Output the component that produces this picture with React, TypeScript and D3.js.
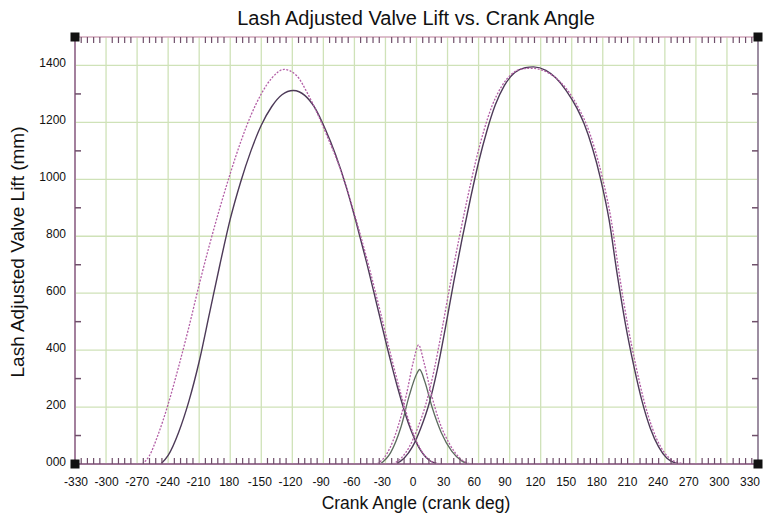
import React from 'react';
import * as d3 from 'd3';

// lift curves: [crank deg, lift]
const bigLeftPink: [number, number][] = [
  [-265, 0], [-258, 30], [-250, 100], [-240, 210], [-230, 340], [-220, 480], [-210, 630],
  [-200, 770], [-190, 900], [-180, 1020], [-170, 1130], [-160, 1225], [-150, 1300],
  [-140, 1355], [-128, 1386], [-116, 1365], [-105, 1300], [-95, 1225], [-85, 1140],
  [-75, 1050], [-65, 940], [-55, 815], [-45, 680], [-35, 535], [-25, 385], [-15, 245],
  [-5, 125], [5, 45], [15, 8], [24, 0],
];
const bigLeftDark: [number, number][] = [
  [-247, 0], [-240, 30], [-230, 110], [-220, 220], [-210, 360], [-200, 530], [-190, 700],
  [-180, 860], [-170, 990], [-160, 1100], [-150, 1190], [-140, 1255], [-130, 1297],
  [-119, 1312], [-108, 1295], [-98, 1250], [-88, 1175], [-78, 1085], [-68, 975], [-58, 845],
  [-48, 705], [-38, 555], [-28, 405], [-18, 265], [-8, 145], [2, 60], [12, 14], [22, 0],
];
const bigRightDark: [number, number][] = [
  [-20, 0], [-12, 20], [-4, 60], [4, 125], [12, 210], [20, 330], [28, 480], [36, 640],
  [44, 790], [52, 930], [60, 1060], [68, 1170], [76, 1260], [85, 1330], [95, 1375],
  [105, 1392], [113, 1395], [125, 1383], [135, 1355], [145, 1310], [155, 1250], [162, 1195],
  [170, 1110], [178, 1000], [186, 860], [194, 665], [202, 490], [210, 345], [218, 220],
  [226, 125], [234, 60], [242, 20], [250, 4], [258, 0],
];
const bigRightPink: [number, number][] = [
  [-23, 0], [-15, 20], [-7, 60], [1, 125], [9, 210], [17, 330], [25, 480], [33, 640],
  [41, 790], [49, 930], [57, 1060], [65, 1170], [73, 1258], [82, 1325], [92, 1370],
  [102, 1388], [111, 1390], [124, 1380], [136, 1352], [147, 1308], [157, 1248], [164, 1195],
  [172, 1110], [180, 1000], [188, 860], [196, 665], [204, 490], [212, 345], [220, 220],
  [228, 125], [236, 60], [244, 22], [252, 6], [262, 0],
];
const smallPink: [number, number][] = [
  [-38, 0], [-28, 40], [-18, 130], [-10, 240], [-3, 360], [2, 418], [7, 360], [14, 250],
  [22, 150], [32, 70], [42, 20], [52, 0],
];
const smallDark: [number, number][] = [
  [-35, 0], [-25, 40], [-15, 130], [-7, 240], [0, 315], [3, 332], [8, 290], [15, 200],
  [24, 110], [34, 45], [44, 10], [50, 0],
];

const xTicks = d3.range(-330, 331, 30);
const xTickLabels = ['-330', '-300', '-270', '-240', '-210', '180', '-150', '-120', '-90', '-60', '-30', '0',
  '30', '60', '90', '120', '150', '180', '210', '240', '270', '300', '330'];
const yTicks = [0, 200, 400, 600, 800, 1000, 1200, 1400];
const yTickLabels = ['000', '200', '400', '600', '800', '1000', '1200', '1400'];

const W = 772, H = 514;
const left = 75, right = 758, top = 37, bottom = 464;

const App = () => {
  const x = d3.scaleLinear().domain([-330, 330]).range([left, right]);
  const xLab = d3.scaleLinear().domain([-330, 330]).range([76, 750]);
  const y = d3.scaleLinear().domain([0, 1500]).range([bottom, top]);

  const line = d3.line<[number, number]>()
    .x(d => x(d[0]))
    .y(d => y(Math.max(0, d[1])))
    .curve(d3.curveMonotoneX);

  const minorX = d3.range(-330, 331, 6).filter(v => (v + 330) % 30 !== 0);
  const minorY = d3.range(100, 1500, 200);

  const darkCol = '#4d3a58';
  const pinkCol = '#b35fa6';
  const font = 'Arial, "Liberation Sans", sans-serif';

  return (
    <svg width={W} height={H} style={{ position: 'absolute', left: 0, top: 0, background: '#fff' }}>
      {/* grid */}
      {xTicks.slice(1, -1).map(v => (
        <line key={'gx' + v} x1={x(v)} x2={x(v)} y1={top} y2={bottom} stroke="#cfe2b8" strokeWidth={1.3} />
      ))}
      {yTicks.slice(1).map(v => (
        <line key={'gy' + v} x1={left} x2={right} y1={y(v)} y2={y(v)} stroke="#cfe2b8" strokeWidth={1.3} />
      ))}

      {/* curves */}
      <path d={line(bigLeftDark) || ''} fill="none" stroke={darkCol} strokeWidth={1.4} />
      <path d={line(bigRightDark) || ''} fill="none" stroke={darkCol} strokeWidth={1.4} />
      <path d={line(smallDark) || ''} fill="none" stroke="#5c6a5e" strokeWidth={1.3} />
      <path d={line(bigLeftPink) || ''} fill="none" stroke={pinkCol} strokeWidth={1.3} strokeDasharray="2,1.5" />
      <path d={line(bigRightPink) || ''} fill="none" stroke={pinkCol} strokeWidth={1.3} strokeDasharray="2,1.5" />
      <path d={line(smallPink) || ''} fill="none" stroke={pinkCol} strokeWidth={1.3} strokeDasharray="2,1.5" />

      {/* frame */}
      <line x1={left} x2={right} y1={top} y2={top} stroke="#d2a9bb" strokeWidth={1.5} />
      <line x1={left} x2={right} y1={bottom} y2={bottom} stroke="#9c7595" strokeWidth={2} />
      <line x1={left} x2={left} y1={top} y2={bottom} stroke="#a3809d" strokeWidth={2} />
      <line x1={right} x2={right} y1={top} y2={bottom} stroke="#9d8ea2" strokeWidth={2} />

      {/* minor ticks */}
      {minorX.map(v => (
        <g key={'mx' + v}>
          <line x1={x(v)} x2={x(v)} y1={top} y2={top + 6} stroke="#6f4f6a" strokeWidth={1.2} />
          <line x1={x(v)} x2={x(v)} y1={bottom} y2={bottom - 6} stroke="#6f4f6a" strokeWidth={1.2} />
        </g>
      ))}
      {minorY.map(v => (
        <g key={'my' + v}>
          <line x1={left} x2={left + 6} y1={y(v)} y2={y(v)} stroke="#6f4f6a" strokeWidth={1.5} />
          <line x1={right} x2={right - 6} y1={y(v)} y2={y(v)} stroke="#6f4f6a" strokeWidth={1.5} />
        </g>
      ))}

      {/* corner squares */}
      {[[left, top], [right, top], [left, bottom], [right, bottom]].map(([cx, cy], i) => (
        <rect key={'sq' + i} x={cx - 4.5} y={cy - 4.5} width={9} height={9} fill="#111" />
      ))}

      {/* tick labels */}
      {xTicks.map((v, i) => (
        <text key={'xl' + v} x={xLab(v)} y={486} textAnchor="middle" fontSize={12} fontFamily={font} fill="#111">
          {xTickLabels[i]}
        </text>
      ))}
      {yTicks.map((v, i) => (
        <text key={'yl' + v} x={66} y={y(v) + 2} textAnchor="end" fontSize={12} fontFamily={font} fill="#111">
          {yTickLabels[i]}
        </text>
      ))}

      {/* titles */}
      <text x={416} y={25} textAnchor="middle" fontSize={20} fontFamily={font} fill="#111">
        Lash Adjusted Valve Lift vs. Crank Angle
      </text>
      <text x={416} y={509} textAnchor="middle" fontSize={17.5} fontFamily={font} fill="#111">
        Crank Angle (crank deg)
      </text>
      <text transform={`translate(24,252) rotate(-90)`} textAnchor="middle" fontSize={19} fontFamily={font} fill="#111">
        Lash Adjusted Valve Lift (mm)
      </text>
    </svg>
  );
};

export default App;
